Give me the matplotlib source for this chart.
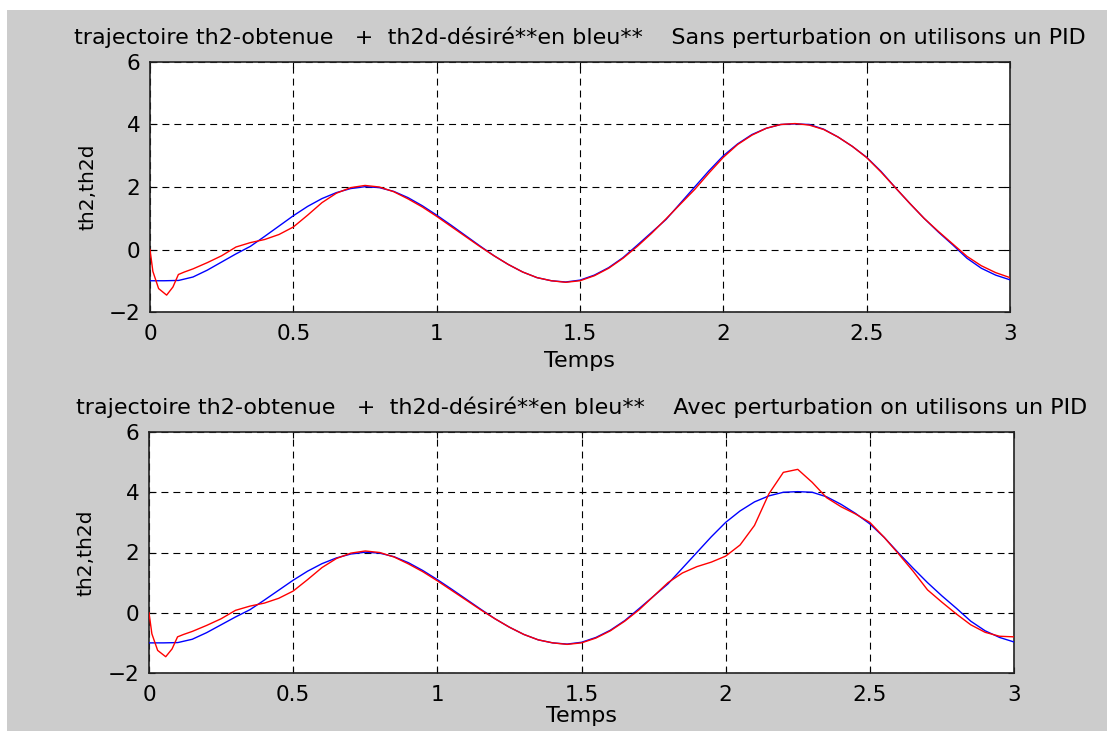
import matplotlib
matplotlib.use("Agg")
import matplotlib.pyplot as plt
from matplotlib.patches import Rectangle

plt.rcParams['font.family'] = ['DejaVu Sans']
plt.rcParams['lines.scale_dashes'] = False

# ---- data ----
t = [0.00, 0.05, 0.10, 0.15, 0.20, 0.25, 0.30, 0.35, 0.40, 0.45,
     0.50, 0.55, 0.60, 0.65, 0.70, 0.75, 0.80, 0.85, 0.90, 0.95,
     1.00, 1.05, 1.10, 1.15, 1.20, 1.25, 1.30, 1.35, 1.40, 1.45,
     1.50, 1.55, 1.60, 1.65, 1.70, 1.75, 1.80, 1.85, 1.90, 1.95,
     2.00, 2.05, 2.10, 2.15, 2.20, 2.25, 2.30, 2.35, 2.40, 2.45,
     2.50, 2.55, 2.60, 2.65, 2.70, 2.75, 2.80, 2.85, 2.90, 2.95, 3.00]

th2d = [-1.00, -1.00, -0.99, -0.88, -0.66, -0.40, -0.14, 0.10, 0.42, 0.75,
        1.08, 1.38, 1.63, 1.82, 1.95, 2.01, 1.98, 1.86, 1.66, 1.40,
        1.10, 0.78, 0.45, 0.12, -0.20, -0.48, -0.72, -0.90, -1.00, -1.04,
        -0.98, -0.82, -0.58, -0.26, 0.14, 0.55, 0.96, 1.48, 2.00, 2.52,
        3.00, 3.38, 3.68, 3.88, 4.00, 4.02, 4.00, 3.85, 3.60, 3.30,
        2.95, 2.50, 1.98, 1.48, 1.00, 0.56, 0.15, -0.28, -0.60, -0.82, -0.97]

# red (obtained) trajectory: fast transient at the start, then 0.20 .. 3.00 step 0.05
t_start = [0.00, 0.01, 0.03, 0.058, 0.08, 0.099, 0.12, 0.15]
th2_start = [0.00, -0.70, -1.25, -1.46, -1.20, -0.80, -0.72, -0.62]

t_main = [0.20, 0.25, 0.30, 0.35, 0.40, 0.45, 0.50, 0.55, 0.60, 0.65,
          0.70, 0.75, 0.80, 0.85, 0.90, 0.95, 1.00, 1.05, 1.10, 1.15,
          1.20, 1.25, 1.30, 1.35, 1.40, 1.45, 1.50, 1.55, 1.60, 1.65,
          1.70, 1.75, 1.80, 1.85, 1.90, 1.95, 2.00, 2.05, 2.10, 2.15,
          2.20, 2.25, 2.30, 2.35, 2.40, 2.45, 2.50, 2.55, 2.60, 2.65,
          2.70, 2.75, 2.80, 2.85, 2.90, 2.95, 3.00]

th2_sans = [-0.42, -0.20, 0.08, 0.22, 0.32, 0.48, 0.72, 1.10, 1.50, 1.80,
            1.98, 2.05, 2.00, 1.85, 1.62, 1.36, 1.06, 0.74, 0.42, 0.10,
            -0.20, -0.48, -0.72, -0.90, -1.00, -1.05, -1.00, -0.84, -0.60, -0.28,
            0.10, 0.52, 0.98, 1.45, 1.92, 2.45, 2.95, 3.36, 3.66, 3.88,
            4.00, 4.03, 3.98, 3.84, 3.60, 3.30, 2.94, 2.48, 1.98, 1.48,
            1.00, 0.58, 0.18, -0.22, -0.52, -0.74, -0.90]

th2_avec = [-0.42, -0.20, 0.08, 0.22, 0.32, 0.48, 0.72, 1.10, 1.50, 1.80,
            1.98, 2.05, 2.00, 1.85, 1.62, 1.36, 1.06, 0.74, 0.42, 0.10,
            -0.20, -0.48, -0.72, -0.90, -1.00, -1.05, -1.00, -0.84, -0.60, -0.28,
            0.10, 0.55, 1.00, 1.32, 1.53, 1.68, 1.88, 2.25, 2.90, 3.95,
            4.66, 4.76, 4.33, 3.82, 3.52, 3.28, 3.00, 2.50, 1.95, 1.38,
            0.76, 0.35, -0.04, -0.40, -0.65, -0.78, -0.80]

xticks = [0, 0.5, 1, 1.5, 2, 2.5, 3]
xtick_labels = ['0', '0.5', '1', '1.5', '2', '2.5', '3']
yticks = [-2, 0, 2, 4, 6]

title_top = "trajectoire th2-obtenue   +  th2d-désiré**en bleu**    Sans perturbation on utilisons un PID"
title_bot = "trajectoire th2-obtenue   +  th2d-désiré**en bleu**    Avec perturbation on utilisons un PID"

W, H = 1107, 731
fig = plt.figure(figsize=(W / 100, H / 100), dpi=100)
fig.patch.set_facecolor('white')
fig.patches.append(Rectangle((7 / W, 0), 1, 1 - 10 / H, transform=fig.transFigure,
                             facecolor='#cccccc', edgecolor='none', zorder=-10))

ax1 = fig.add_axes([150 / W, 1 - 312 / H, 860 / W, 250 / H])
ax2 = fig.add_axes([149 / W, 1 - 673 / H, 865 / W, 241 / H])

t_red = t_start + t_main

for ax, red, title, wpx, lpad in [(ax1, th2_sans, title_top, 860, 5),
                                  (ax2, th2_avec, title_bot, 865, 1)]:
    ax.set_facecolor('white')
    ax.plot(t, th2d, color='#0000ff', lw=1.0, zorder=3)
    ax.plot(t_red, th2_start + red, color='#ff0000', lw=1.0, zorder=4)
    ax.set_xlim(0, 3)
    ax.set_ylim(-2, 6)
    ax.set_xticks(xticks)
    ax.set_xticklabels(xtick_labels)
    ax.set_yticks(yticks)
    ax.grid(True, color='black', linestyle=(0, (5, 3.6)), linewidth=0.8)
    ax.tick_params(direction='in', length=4, width=0.8, top=True, right=True,
                   labelsize=15.5, colors='black')
    ax.tick_params(axis='x', pad=8.5)
    ax.tick_params(axis='y', pad=7)
    for s in ax.spines.values():
        s.set_linewidth(1.2)
        s.set_color('#222222')
    ax.set_title(title, fontsize=16, pad=13)
    ax.set_xlabel('Temps', fontsize=16, labelpad=lpad)
    ax.set_ylabel('th2,th2d', fontsize=14.5)
    ax.yaxis.set_label_coords(-(150 - 97) / wpx, 0.5)

fig.savefig('out.png', dpi=100, facecolor=fig.get_facecolor())
